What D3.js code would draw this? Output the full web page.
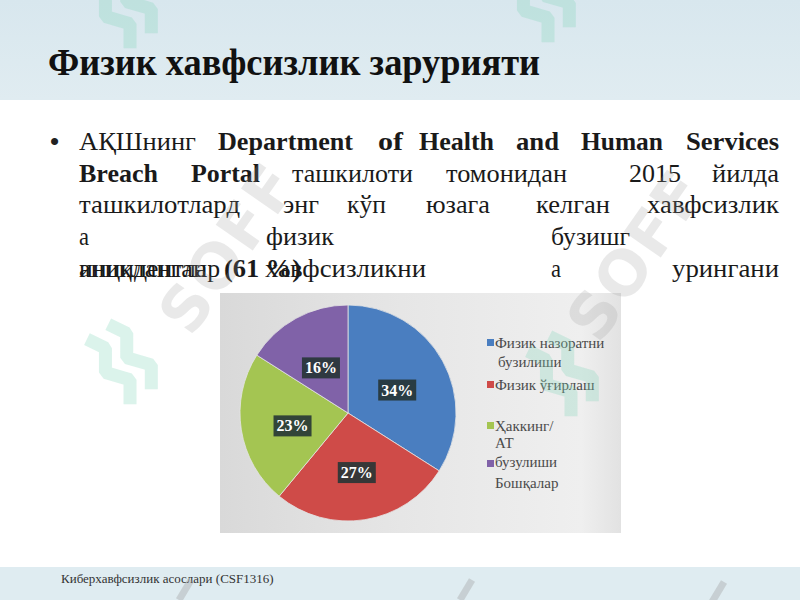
<!DOCTYPE html>
<html>
<head>
<meta charset="utf-8">
<script src="https://cdn.jsdelivr.net/npm/d3@7"></script>
<style>
  html, body { margin: 0; padding: 0; background: #ffffff; }
  svg { display: block; }
</style>
</head>
<body>
<svg id="slide" width="800" height="600"></svg>
<script>
// ---------- data ----------
const categories = ["Физик назоратни бузилиши", "Физик ўғирлаш", "Ҳаккинг/АТ бузулиши", "Бошқалар"];
const values = [34, 27, 23, 16];
const sliceColors = ["#4a7ec0", "#cf4b48", "#a4c552", "#8062a8"];
const legendLines = [["Физик назоратни", "бузилиши"], ["Физик ўғирлаш"], ["Ҳаккинг/", "АТ"], ["бузулиши", "Бошқалар"]];
const titleText = "Физик хавфсизлик зарурияти";
const footerText = "Киберхавфсизлик асослари (CSF1316)";
const bodyLines = [
  [["АҚШнинг", 0], ["Department", 1], ["of", 1], ["Health", 1], ["and", 1], ["Human", 1], ["Services", 1]],
  [["Breach", 1], ["Portal", 1], ["ташкилоти", 0], ["томонидан", 0], ["2015", 0], ["йилда", 0]],
  [["ташкилотлард", 0], ["энг", 0], ["кўп", 0], ["юзага", 0], ["келган", 0], ["хавфсизлик", 0]],
  [["а", 0], ["физик", 0], ["бузишг", 0]],
  [["аниқланган", 0], ["хавфсизликни", 0], ["а", 0], ["урингани", 0]],
  [["инцидентлар", 0], ["(61 %)", 1]]
];

// ---------- layout (word spans on the justified lines) ----------
const W = 800, H = 600;
const serif = "'Liberation Serif', 'DejaVu Serif', serif";
const wordSpan = [
  [[79, 196], [218, 353], [378, 403], [419, 494], [516, 559], [581, 663], [686, 779]],
  [[79, 158], [191, 260], [292, 413], [446, 567], [629, 681], [712, 779]],
  [[79, 240], [283, 319], [347, 386], [426, 490], [536, 610], [647, 779]],
  [[79, 89], [266, 334], [551, 630]],
  [[79, 207], [265, 426], [551, 561], [672, 779]],
  [[79, 220], [224, 301]]
];
const lineY = [150, 182, 213, 245, 277, 277];

const svg = d3.select("#slide");
const defs = svg.append("defs");

const bandGrad = defs.append("linearGradient").attr("id", "band").attr("x1", 0).attr("y1", 0).attr("x2", 0).attr("y2", 1);
bandGrad.append("stop").attr("offset", 0).attr("stop-color", "#d8e7ee");
bandGrad.append("stop").attr("offset", 1).attr("stop-color", "#e0ecf1");

const panelGrad = defs.append("linearGradient").attr("id", "panel").attr("x1", 0).attr("y1", 0).attr("x2", 1).attr("y2", 0);
panelGrad.append("stop").attr("offset", 0).attr("stop-color", "#d9d9d9");
panelGrad.append("stop").attr("offset", 0.45).attr("stop-color", "#e6e6e6");
panelGrad.append("stop").attr("offset", 0.9).attr("stop-color", "#efefef");
panelGrad.append("stop").attr("offset", 1).attr("stop-color", "#e2e2e2");

// background bands
svg.append("rect").attr("x", 0).attr("y", 0).attr("width", W).attr("height", H).attr("fill", "#ffffff");
svg.append("rect").attr("x", 0).attr("y", 0).attr("width", W).attr("height", 100).attr("fill", "url(#band)");
svg.append("rect").attr("x", 0).attr("y", 567).attr("width", W).attr("height", 33).attr("fill", "#dfecf1");

// title
svg.append("text")
  .attr("x", 48).attr("y", 75)
  .attr("font-family", serif).attr("font-weight", "bold").attr("font-size", 37)
  .attr("fill", "#111")
  .attr("textLength", 492).attr("lengthAdjust", "spacingAndGlyphs")
  .text(titleText);

// bullet
svg.append("text").attr("x", 50).attr("y", 150)
  .attr("font-family", "'Liberation Sans', Arial, sans-serif").attr("font-size", 26)
  .attr("fill", "#222").text("•");

// body words (justified spans)
bodyLines.forEach((line, li) => {
  const g = svg.append("g").attr("class", "line" + li);
  g.selectAll("text").data(line).join("text")
    .attr("x", (d, i) => wordSpan[li][i][0])
    .attr("y", lineY[li])
    .attr("font-family", serif)
    .attr("font-size", 26)
    .attr("font-weight", d => d[1] ? "bold" : "normal")
    .attr("fill", "#1a1a1a")
    .attr("textLength", (d, i) => wordSpan[li][i][1] - wordSpan[li][i][0])
    .attr("lengthAdjust", "spacingAndGlyphs")
    .text(d => d[0]);
});

// ---------- chart panel ----------
const panel = { x: 220, y: 293, w: 401, h: 240 };
svg.append("rect")
  .attr("x", panel.x).attr("y", panel.y).attr("width", panel.w).attr("height", panel.h)
  .attr("fill", "url(#panel)");

const cx = 348, cy = 413, R = 108;
const pieGen = d3.pie().sort(null).value(d => d);
const arcs = pieGen(values);
const arcGen = d3.arc().innerRadius(0).outerRadius(R);
const labelArc = d3.arc().innerRadius(0).outerRadius(R * 1.04);
const pieG = svg.append("g").attr("transform", `translate(${cx},${cy})`);
pieG.selectAll("path").data(arcs).join("path")
  .attr("d", arcGen)
  .attr("fill", (d, i) => sliceColors[i])
  .attr("stroke", "#e4e4e4").attr("stroke-width", 0.8);

// data labels
const labG = pieG.selectAll("g.lab").data(arcs).join("g").attr("class", "lab")
  .attr("transform", d => { const c = labelArc.centroid(d); return `translate(${c[0]},${c[1] + 4})`; });
labG.append("rect").attr("fill", "#263535").attr("fill-opacity", 0.9);
labG.append("text")
  .attr("text-anchor", "middle").attr("dy", "0.35em")
  .attr("font-family", serif).attr("font-weight", "bold").attr("font-size", 16)
  .attr("fill", "#ffffff")
  .text(d => d.data + "%");
labG.each(function () {
  const t = d3.select(this).select("text").node().getBBox();
  d3.select(this).select("rect")
    .attr("x", t.x - 3).attr("y", t.y - 2)
    .attr("width", t.width + 6).attr("height", t.height + 4);
});

// legend
const legSquareY = [343, 385, 426, 464];
const legLineY = [[348, 367], [390], [431, 448], [467, 488]];
const legLineX = [[495, 498], [495], [495, 495], [495, 495]];
const legG = svg.append("g");
legendLines.forEach((lines, i) => {
  legG.append("rect").attr("x", 487).attr("y", legSquareY[i] - 4)
    .attr("width", 7).attr("height", 7).attr("fill", sliceColors[i]);
  lines.forEach((s, j) => {
    legG.append("text")
      .attr("x", legLineX[i][j]).attr("y", legLineY[i][j])
      .attr("font-family", serif).attr("font-size", 15)
      .attr("fill", "#4a4a4a").text(s);
  });
});

// footer
svg.append("text").attr("x", 61).attr("y", 583)
  .attr("font-family", serif).attr("font-size", 13).attr("fill", "#333")
  .text(footerText);

// ---------- faint watermark ----------
const wm = svg.append("g").attr("pointer-events", "none");
function soff(x, y) {
  wm.append("text").attr("transform", `translate(${x},${y}) rotate(-55)`)
    .attr("text-anchor", "middle").attr("dy", "0.35em")
    .attr("font-family", "'DejaVu Sans', sans-serif").attr("font-weight", "bold")
    .attr("font-size", 62).attr("letter-spacing", 2)
    .attr("fill", "#9a9a9a").attr("fill-opacity", 0.22).text("SOFF");
}
function logo(x, y) {
  const gg = wm.append("g").attr("transform", `translate(${x},${y}) rotate(-35)`);
  [0, 26].forEach(dx => {
    gg.append("path")
      .attr("d", `M${dx - 6},40 L${dx + 8},20 L${dx - 8},0 L${dx + 6},-20 L${dx - 4},-38`)
      .attr("fill", "none").attr("stroke", "#7fd4b8").attr("stroke-opacity", 0.28)
      .attr("stroke-width", 13).attr("stroke-linejoin", "bevel");
  });
}
soff(228, 248);
soff(636, 255);
logo(112, 368);
logo(553, 380);
logo(112, 12);
logo(530, 6);
[[185, 590], [466, 590], [718, 592]].forEach(p => {
  wm.append("line").attr("x1", p[0] - 6).attr("y1", p[1] + 10).attr("x2", p[0] + 6).attr("y2", p[1] - 10)
    .attr("stroke", "#9a9a9a").attr("stroke-opacity", 0.35).attr("stroke-width", 7);
});
</script>
</body>
</html>
